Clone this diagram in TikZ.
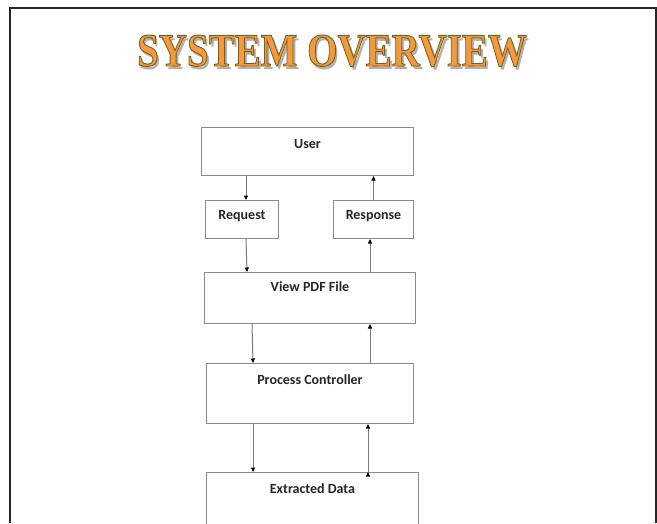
\documentclass[tikz,border=0pt]{standalone}
\usepackage{fontspec}
\newfontfamily\titlefont{Liberation Serif}
\newfontfamily\boxfont{Carlito}
\usetikzlibrary{arrows.meta,positioning,shadows}
\definecolor{titleorange}{HTML}{F49A3C}
\definecolor{titleshade}{HTML}{B0B0B0}
\definecolor{boxgray}{HTML}{8A8A8A}
\definecolor{linegray}{HTML}{7A7A7A}
\newcommand{\outlinedtext}{\special{pdf:literal 2 Tr 0.8 w 0.45 0.38 0.13 RG}}
\newcommand{\shadedtitle}[1]{\rlap{\hspace{2.5pt}\raisebox{-2.5pt}{\color{titleshade}#1}}{\outlinedtext #1}}

\tikzset{
  box/.style={draw=boxgray, fill=white, line width=1pt, inner sep=0pt, anchor=north west,
    drop shadow={shadow xshift=0.6pt, shadow yshift=-0.9pt, fill=black!40}},
  lbl/.style={font=\boxfont\bfseries\fontsize{14}{16}\selectfont, text=black!85,
    anchor=base, inner sep=0pt},
  headline/.style={font=\titlefont\bfseries\fontsize{39}{40}\selectfont, anchor=base, inner sep=0pt},
  flow/.style={draw=linegray, line width=1pt, -{Triangle[length=4.5pt,width=4pt,color=black]}},
}

\begin{document}
\begin{tikzpicture}[x=1pt,y=-1pt]
  \useasboundingbox (0,0) rectangle (657,523);
  \clip (0,0) rectangle (657,523);
  \draw[black!85, line width=1.3pt] (10,523) |- (656,8) -- (656,523);

% title
  \node[headline, text=titleorange] (title) at (332,66) {\scalebox{1}[1.2]{\shadedtitle{SYSTEM OVERVIEW}}};

% boxes
  \node[box, minimum width=212pt, minimum height=48pt] (user) at (201,127) {};
  \node[box, minimum width=73pt,  minimum height=38pt] (req)  at (205,200) {};
  \node[box, minimum width=80pt,  minimum height=38pt] (resp) at (333,200) {};
  \node[box, minimum width=211pt, minimum height=51pt] (view) at (204,272) {};
  \node[box, minimum width=207pt, minimum height=60pt] (proc) at (206,363) {};
  \node[box, minimum width=212pt, minimum height=80pt] (ext)  at (206,472) {};

  \node[lbl] (user-txt) at ([yshift=-21pt]user.north) {User};
  \node[lbl] (req-txt)  at ([yshift=-19pt]req.north)  {Request};
  \node[lbl] (resp-txt) at ([yshift=-19pt]resp.north) {Response};
  \node[lbl] (view-txt) at ([yshift=-19pt]view.north) {View PDF File};
  \node[lbl] (proc-txt) at ([yshift=-21pt]proc.north) {Process Controller};
  \node[lbl] (ext-txt)  at ([yshift=-21pt]ext.north)  {Extracted Data};

% connectors
  \path[flow]
    ([xshift=45pt]user.south west)  edge  ([xshift=41pt]req.north west)
    (resp.north)                    edge  (resp.north |- user.south)
    ([xshift=41pt]req.south west)   edge  ([xshift=43pt]view.north west)
    ([xshift=166pt]view.north west) edge  ([xshift=37pt]resp.south west)
    ([xshift=48pt]view.south west)  edge  ([xshift=47pt]proc.north west)
    ([xshift=164pt]proc.north west) edge  ([xshift=166pt]view.south west)
    ([xshift=47pt]proc.south west)  edge  ([xshift=47pt]ext.north west)
    ([xshift=162pt]ext.north west)  edge  ([xshift=162pt]proc.south west);
\end{tikzpicture}
\end{document}
